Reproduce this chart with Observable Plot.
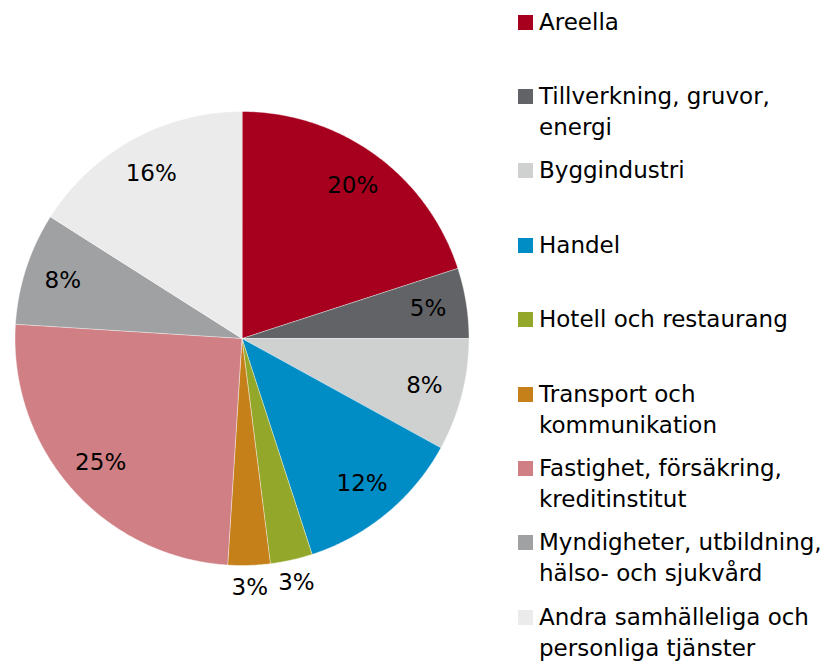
<!DOCTYPE html>
<html><head><meta charset="utf-8">
<script src="https://cdn.jsdelivr.net/npm/d3@7"></script>
<script src="https://cdn.jsdelivr.net/npm/@observablehq/plot@0.6"></script>
<style>
body{margin:0;background:#fff}
#wrap{position:relative;width:827px;height:661px;font-family:"DejaVu Sans",sans-serif;background:#fff}
#wrap svg{position:absolute;left:0;top:0}
.leg{position:absolute;left:518px;font-size:23px;line-height:31px;color:#000;white-space:pre-line}
.leg .sw{position:absolute;left:0;top:8px;width:15px;height:15px}
.leg .tx{margin-left:21px}
</style></head><body><div id="wrap"></div>
<script>
const sectors = ["Areella", "Tillverkning, gruvor,\nenergi", "Byggindustri", "Handel", "Hotell och restaurang", "Transport och\nkommunikation", "Fastighet, försäkring,\nkreditinstitut", "Myndigheter, utbildning,\nhälso- och sjukvård", "Andra samhälleliga och\npersonliga tjänster"];
const shares = [20, 5, 8, 12, 3, 3, 25, 8, 16];
const labels = ["20%", "5%", "8%", "12%", "3%", "3%", "25%", "8%", "16%"];
const colors = ["#A6001E", "#626366", "#CFD0D0", "#008CC5", "#93A82A", "#C5801A", "#D08084", "#A0A1A3", "#EBEBEB"];

const total = d3.sum(shares);
const cx = 241.5, cy = 338, R = 227;
let cum = 0;
const slices = shares.map((v, i) => {
  const a0 = cum / total * 2 * Math.PI;
  cum += v;
  const a1 = cum / total * 2 * Math.PI;
  return {name: sectors[i], value: v, label: labels[i], color: colors[i], a0, a1};
});
const pts = [];
for (const s of slices) {
  pts.push({name: s.name, color: s.color, x: 0, y: 0});
  const n = Math.max(2, Math.ceil((s.a1 - s.a0) / (Math.PI / 360)));
  for (let k = 0; k <= n; k++) {
    const a = s.a0 + (s.a1 - s.a0) * k / n;
    pts.push({name: s.name, color: s.color, x: Math.sin(a), y: Math.cos(a)});
  }
}
const labelPts = slices.map(s => {
  const a = (s.a0 + s.a1) / 2;
  const r = s.value / total < 0.04 ? 1.1 : 0.83;
  return {text: s.label, x: r * Math.sin(a), y: r * Math.cos(a)};
});

const plot = Plot.plot({
  width: 827, height: 661,
  margin: 0,
  x: {domain: [-1, 1], range: [cx - R, cx + R], axis: null},
  y: {domain: [-1, 1], range: [cy + R, cy - R], axis: null},
  color: {type: "identity"},
  style: {background: "transparent"},
  marks: [
    Plot.line(pts, {x: "x", y: "y", z: "name", fill: "color", stroke: "#ffffff", strokeWidth: 0.6, strokeOpacity: 0.7, curve: "linear-closed"}),
    Plot.text(labelPts, {x: "x", y: "y", text: "text", fontSize: 23, fontFamily: "DejaVu Sans", fill: "#000"})
  ]
});
const wrap = document.getElementById("wrap");
wrap.appendChild(plot);

slices.forEach((s, i) => {
  const yc = 22 + i * 74.4;
  const d = document.createElement("div");
  d.className = "leg";
  d.style.top = (yc - 15.5) + "px";
  const sw = document.createElement("div");
  sw.className = "sw";
  sw.style.background = s.color;
  const tx = document.createElement("div");
  tx.className = "tx";
  tx.textContent = s.name;
  d.appendChild(sw); d.appendChild(tx);
  wrap.appendChild(d);
});
</script></body></html>
